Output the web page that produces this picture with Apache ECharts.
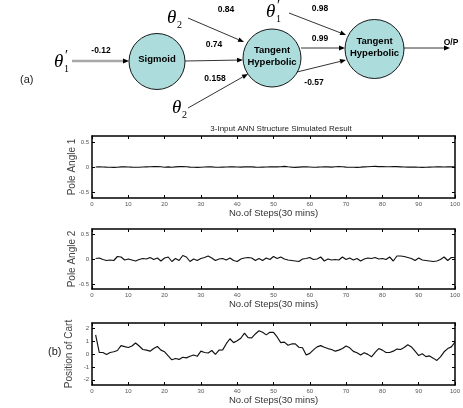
<!DOCTYPE html>
<html>
<head>
<meta charset="utf-8">
<script src="https://cdn.jsdelivr.net/npm/echarts@6/dist/echarts.min.js"></script>
<style>
  html, body { margin: 0; padding: 0; background: #fff; }
  #chart { width: 463px; height: 408px; }
</style>
</head>
<body>
<div id="chart"></div>
<script>
// 网络权重 (a)
var weightLabels = ['-0.12', '0.84', '0.74', '0.158', '0.98', '0.99', '-0.57', 'O/P']
var nodeNames = ['Sigmoid', 'Tangent\nHyperbolic', 'Tangent\nHyperbolic']

// 仿真结果 (b)
var xTicks = [0, 10, 20, 30, 40, 50, 60, 70, 80, 90, 100]
var angleTicks = [-0.5, 0, 0.5]
var cartTicks = [-2, -1, 0, 1, 2]
var steps = []
for (var i = 1; i <= 100; i++) steps.push(i)

var poleAngle1 = [
  0.000, 0.002, 0.001, -0.003, -0.005, -0.008, -0.004, 0.002, 0.004, 0.001,
  -0.003, -0.006, -0.004, 0.000, 0.003, 0.005, 0.008, 0.011, 0.004, -0.004,
  0.002, -0.006, 0.003, 0.007, 0.009, 0.004, -0.002, -0.005, -0.007, -0.004,
  0.000, 0.003, 0.002, -0.004, -0.006, -0.002, 0.001, 0.003, 0.002, -0.001,
  -0.003, 0.002, 0.004, 0.003, -0.002, -0.005, -0.002, 0.001, 0.003, 0.004,
  0.002, 0.006, 0.012, 0.004, -0.003, -0.007, -0.002, 0.003, 0.002, -0.001,
  -0.004, -0.002, 0.001, 0.003, 0.002, -0.003, 0.004, 0.010, 0.005, -0.002,
  -0.004, -0.006, -0.007, -0.003, 0.002, 0.006, 0.009, 0.012, 0.008, 0.011,
  0.006, 0.004, 0.010, 0.007, 0.003, -0.001, -0.003, -0.002, 0.001, -0.004,
  -0.008, -0.006, -0.002, 0.001, 0.003, 0.002, 0.000, 0.002, 0.004, 0.003
]
var poleAngle2 = [
  0.01, 0.02, -0.01, -0.03, -0.02, -0.03, 0.05, 0.04, -0.02, 0.00,
  -0.02, -0.04, -0.01, 0.01, 0.00, 0.03, -0.01, 0.02, -0.04, 0.02,
  0.04, -0.05, 0.01, -0.03, 0.07, 0.04, -0.05, 0.00, -0.03, 0.01,
  0.03, 0.06, 0.02, -0.03, 0.00, 0.01, -0.02, 0.02, -0.03, -0.05,
  0.00, 0.02, 0.03, 0.02, -0.03, 0.01, -0.03, 0.02, -0.01, 0.05,
  0.01, 0.04, 0.00, -0.02, -0.03, -0.04, -0.05, 0.00, 0.01, 0.03,
  -0.01, 0.00, 0.04, -0.04, 0.00, -0.02, -0.01, -0.02, 0.04, -0.01,
  0.02, -0.02, 0.01, -0.04, 0.00, 0.02, 0.01, 0.03, 0.00, 0.01,
  -0.01, 0.04, -0.04, 0.06, 0.06, 0.05, 0.03, 0.01, -0.03, 0.02,
  -0.02, -0.03, -0.04, -0.05, -0.04, -0.01, 0.04, -0.03, 0.03, 0.03
]
var cartPosition = [
  1.48, 0.12, 0.12, -0.03, 0.12, 0.17, 0.27, 0.65, 0.57, 0.50,
  0.62, 0.85, 0.62, 0.35, 0.30, 0.22, 0.42, 0.58, 0.30, 0.17,
  -0.15, -0.45, -0.35, -0.42, -0.25, -0.30, -0.18, -0.08, -0.18, 0.22,
  0.12, 0.08, 0.27, -0.03, 0.30, 0.32, 0.80, 1.18, 0.88, 1.02,
  1.22, 1.62, 1.27, 1.25, 1.55, 1.80, 1.68, 1.48, 1.68, 1.68,
  1.32, 0.88, 0.92, 0.68, 0.78, 0.78, 0.52, 0.48, -0.08, 0.05,
  0.32, 0.55, 0.65, 0.52, 0.42, 0.35, 0.22, 0.30, 0.42, 0.62,
  0.48, 0.20, 0.10, -0.08, 0.10, -0.03, -0.22, 0.12, 0.42, 0.30,
  0.12, 0.12, 0.22, 0.38, 0.35, 0.50, 0.72, 0.55, 0.22, -0.12,
  0.02, -0.20, -0.15, -0.32, -0.50, -0.22, 0.17, 0.42, 0.55, 0.92
]

var chart = echarts.init(document.getElementById('chart'))

var FONT = 'Liberation Sans, Arial, sans-serif'
var SERIF = 'Liberation Serif, Times New Roman, serif'

// 箭头
function arrow (x1, y1, x2, y2, color, width) {
  var ang = Math.atan2(y2 - y1, x2 - x1)
  var len = 6, hw = 2.4
  var bx = x2 - len * Math.cos(ang), by = y2 - len * Math.sin(ang)
  var px = -Math.sin(ang) * hw, py = Math.cos(ang) * hw
  return [{
    type: 'line',
    shape: { x1: x1, y1: y1, x2: bx, y2: by },
    style: { stroke: color || '#000', lineWidth: width || 0.8 }
  }, {
    type: 'polygon',
    shape: { points: [[x2, y2], [bx + px, by + py], [bx - px, by - py]] },
    style: { fill: '#000' }
  }]
}
function txt (x, y, s, size, opts) {
  opts = opts || {}
  return {
    type: 'text', x: x, y: y,
    style: {
      text: s, fontSize: size, fontFamily: opts.family || FONT,
      fontWeight: opts.bold ? 'bold' : 'normal', fontStyle: opts.italic ? 'italic' : 'normal',
      fill: opts.color || '#000', align: opts.align || 'center', verticalAlign: 'middle',
      lineHeight: opts.lineHeight
    }
  }
}
function theta (x, y, sub, prime) {
  var out = [txt(x, y, 'θ', 19, { family: SERIF, italic: true, align: 'left' })]
  if (prime) out.push(txt(x + 11, y - 6, '′', 14, { family: SERIF, align: 'left' }))
  out.push(txt(x + 10, y + 7, sub, 10, { family: SERIF, align: 'left' }))
  return out
}
function node (cx, cy, r, label) {
  return [{
    type: 'circle',
    shape: { cx: cx, cy: cy, r: r },
    style: { fill: '#acdcdc', stroke: '#000', lineWidth: 0.9 }
  }, txt(cx, cy - 2, label, 9.5, { bold: true, lineHeight: 12 })]
}

var graphics = []
graphics = graphics.concat(
  arrow(72, 61, 129, 61, '#a8a8a8', 2.4),
  arrow(188, 18, 244, 42),
  arrow(185, 61, 243, 60),
  arrow(188, 108, 248, 74),
  arrow(289, 13, 346, 35),
  arrow(301, 48, 345, 48),
  arrow(297, 72, 346, 60),
  arrow(404, 48, 450, 48),
  node(157, 61.5, 28, nodeNames[0]),
  node(272, 58, 29, nodeNames[1]),
  node(374.5, 49, 29.5, nodeNames[2]),
  theta(54, 62, '1', true),
  theta(167, 18, '2', false),
  theta(172, 108, '2', false),
  theta(266, 12, '1', true)
)
var wPos = [[101, 51], [226, 10], [214, 45], [215, 79], [320, 9], [320, 39], [314, 83], [451, 43]]
weightLabels.forEach(function (w, k) {
  graphics.push(txt(wPos[k][0], wPos[k][1], w, 8.5, { bold: true }))
})
graphics.push(txt(20, 80, '(a)', 11, { align: 'left', color: '#222' }))
graphics.push(txt(48, 352, '(b)', 11, { align: 'left', color: '#222' }))
graphics.push(txt(281, 129, '3-Input ANN Structure Simulated Result', 8, { color: '#222' }))

var grids = [
  { left: 92, right: 3, top: 136, height: 62 },
  { left: 92, right: 3, top: 229, height: 60 },
  { left: 92, right: 3, top: 323, height: 62 }
]
var yCfg = [
  { name: 'Pole Angle 1', min: -0.62, max: 0.62, ticks: angleTicks, data: poleAngle1, gap: 15 },
  { name: 'Pole Angle 2', min: -0.6, max: 0.6, ticks: angleTicks, data: poleAngle2, gap: 15 },
  { name: 'Position of Cart', min: -2.4, max: 2.4, ticks: cartTicks, data: cartPosition, gap: 18 }
]

var xAxes = [], yAxes = [], series = []
var lineStyle = { color: '#000', width: 1.5 }
var labelStyle = { fontSize: 6, color: '#555', fontFamily: FONT }
yCfg.forEach(function (c, g) {
  var xBase = {
    gridIndex: g, type: 'value', min: 0, max: 100, interval: 10,
    axisLine: { onZero: false, lineStyle: lineStyle },
    axisTick: { inside: true, length: 3, lineStyle: { color: '#000', width: 1 } },
    splitLine: { show: false }
  }
  xAxes.push(Object.assign({}, xBase, {
    position: 'bottom',
    name: 'No.of Steps(30 mins)', nameLocation: 'middle', nameGap: 10, nameMoveOverlap: false,
    nameTextStyle: { fontSize: 9.5, color: '#333', fontFamily: FONT },
    axisLabel: Object.assign({ margin: 3, showMaxLabel: true }, labelStyle)
  }))
  xAxes.push(Object.assign({}, xBase, { position: 'top', axisLabel: { show: false } }))
  var yBase = {
    gridIndex: g, type: 'value', min: c.min, max: c.max,
    axisLine: { show: true, onZero: false, lineStyle: lineStyle },
    axisTick: { show: true, inside: true, length: 3, customValues: c.ticks, lineStyle: { color: '#000', width: 1 } },
    splitLine: { show: false }
  }
  yAxes.push(Object.assign({}, yBase, {
    position: 'left',
    name: c.name, nameLocation: 'middle', nameGap: c.gap, nameMoveOverlap: false,
    nameTextStyle: { fontSize: 10, color: '#444', fontFamily: FONT },
    axisLabel: Object.assign({ margin: 3, customValues: c.ticks }, labelStyle)
  }))
  yAxes.push(Object.assign({}, yBase, { position: 'right', axisLabel: { show: false } }))
  series.push({
    type: 'line',
    xAxisIndex: g * 2, yAxisIndex: g * 2,
    data: steps.map(function (s, k) { return [s, c.data[k]] }),
    showSymbol: false, symbol: 'none',
    lineStyle: { color: '#111', width: 1.15 },
    animation: false
  })
})

chart.setOption({
  backgroundColor: '#fff',
  animation: false,
  grid: grids,
  xAxis: xAxes,
  yAxis: yAxes,
  series: series,
  graphic: graphics
})
</script>
</body>
</html>
